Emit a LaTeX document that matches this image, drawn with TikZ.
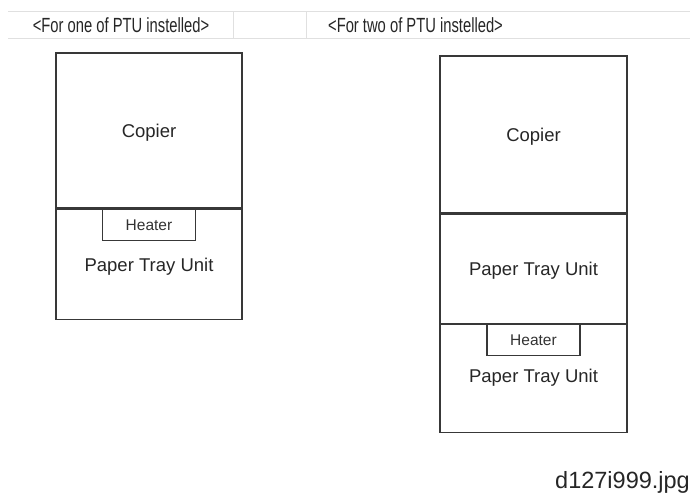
\documentclass[tikz,border=0pt]{standalone}
\usepackage{fontspec}
\setmainfont{Liberation Sans}
\newfontfamily\headfont{Liberation Sans}[FakeStretch=0.72]
\usepackage{tikz}
\usetikzlibrary{positioning}

\tikzset{
    unitbox/.style={draw=black!78, line width=1.3pt, inner sep=0pt, text depth=0pt, font=\fontsize{18.5}{20}\selectfont, text=black!85},
    heaterbox/.style={draw=black!78, line width=1.1pt, inner sep=0pt, minimum width=93pt, minimum height=31pt, text depth=0pt, font=\fontsize{15.5}{17}\selectfont, text=black!80},
    unitlabel/.style={inner sep=0pt, font=\fontsize{18.5}{20}\selectfont, text=black!85},
    headlabel/.style={inner sep=0pt, anchor=base, font=\headfont\fontsize{20.5}{22}\selectfont, text=black!85},
    gridline/.style={draw=black!12, line width=0.8pt}
}

\begin{document}
\begin{tikzpicture}[x=1pt,y=-1pt]
\useasboundingbox (0,0) rectangle (690,495);

% header row
\draw[gridline] (8,11.5) -- (690,11.5) (8,38) -- (690,38) (233,11.5) -- (233,38) (306,11.5) -- (306,38);
\node[headlabel] (headL) at (121,32.3) {<For one of PTU instelled>};
\node[headlabel] (headR) at (415.5,32.3) {<For two of PTU instelled>};

\begin{scope}
    \node[unitbox, minimum width=186pt, minimum height=155pt] (copierL) at (149,130.5) {Copier};
    \node[unitbox, minimum width=186pt, minimum height=110pt, anchor=north] (ptuL) at (copierL.south) {};
    \node[heaterbox, anchor=north] (heaterL) at (ptuL.north) {Heater};
    \node[unitlabel] (ptuLtext) at (149,267) {Paper Tray Unit};
\end{scope}

\begin{scope}
    \node[unitbox, minimum width=187pt, minimum height=157pt] (copierR) at (533.5,134.5) {Copier};
    \node[unitbox, minimum width=187pt, minimum height=109pt, anchor=north] (ptuRa) at (copierR.south) {Paper Tray Unit};
    \node[unitbox, minimum width=187pt, minimum height=108pt, anchor=north] (ptuRb) at (ptuRa.south) {};
    \node[heaterbox, anchor=north] (heaterR) at (ptuRb.north) {Heater};
    \node[unitlabel] (ptuRbtext) at (533.5,378) {Paper Tray Unit};
\end{scope}

\node[inner sep=0pt, anchor=base west, font=\fontsize{23.5}{25}\selectfont, text=black!85] (fname) at (555,488) {d127i999.jpg};
\end{tikzpicture}
\end{document}
